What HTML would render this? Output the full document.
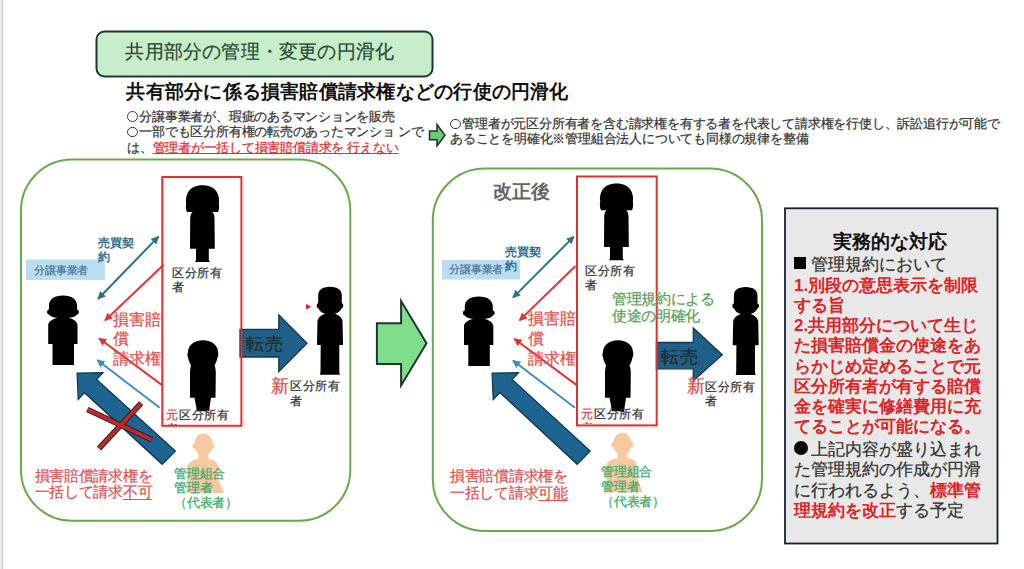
<!DOCTYPE html>
<html><head><meta charset="utf-8">
<style>
html,body{margin:0;padding:0;background:#fff;}
body{width:1024px;height:569px;position:relative;overflow:hidden;font-family:"Liberation Sans",sans-serif;}
.t{position:absolute;white-space:nowrap;font-family:"Liberation Sans",sans-serif;}
.s{-webkit-text-stroke:0.25px currentColor;}
.s b{-webkit-text-stroke:0;}
svg{position:absolute;left:0;top:0;}
</style></head><body>
<svg width="1024" height="569" viewBox="0 0 1024 569">
<defs>
<path id="male" d="M0 0C8 0 11.8 3.5 11.8 8.5L11.8 16.5C13.8 16.5 13.8 21.5 11.6 21.5C10.5 24.5 8 26.3 5 26.8C8 28.5 11.5 30 12.5 34L13 57.5C13 58.3 12 58.3 9.3 58.3L9.3 85L9.8 88L-10 88L-9.5 85L-9.3 58.3C-12 58.3 -13 58.3 -13 57.5L-12.5 34C-11.5 30 -8 28.5 -5 26.8C-8 26.3 -10.5 24.5 -11.6 21.5C-13.8 21.5 -13.8 16.5 -11.8 16.5L-11.8 8.5C-11.8 3.5 -8 0 0 0Z"/>
<path id="dev" d="M0 0C9 0 14 4 14 10L14 14C16.5 14 16.5 19 14 19C13 21 10 22 5.5 22.3C10 23.5 13.5 25.5 14.5 29L14.5 48.6L11 48.6L11 69.5L-10.5 69.5L-10.5 48.6L-14.8 48.6L-14.8 29C-13.8 25.5 -10 23.5 -5.5 22.3C-10 22 -13 21 -14 19C-16.5 19 -16.5 14 -14 14L-14 10C-14 4 -9 0 0 0Z"/>
<g id="female"><path d="M-15.5 26.8C-16.8 24 -16.8 21 -16.3 18C-17 15 -16.5 11 -14.5 7C-12 2.5 -6.5 0 0 0C6.5 0 12 2.5 14.5 7C16.5 11 17 15 16.3 18C16.8 21 16.8 24 15.5 26.8Z"/><path d="M-7.5 25L7.5 25C10.5 26.5 12 29 12 33L12.3 63.6L6.3 63.6L6.3 75L7.5 76.8L-7.5 76.8L-6.5 75L-6.5 63.6L-12.5 63.6L-12.3 33C-12.3 29 -10.5 26.5 -7.5 25Z"/></g>
<g id="peach" fill="#f8c9a1"><ellipse cx="0" cy="10.8" rx="9.3" ry="11"/><ellipse cx="-9.3" cy="12" rx="1.8" ry="2.8"/><ellipse cx="9.3" cy="12" rx="1.8" ry="2.8"/><rect x="-5" y="18" width="10" height="9"/><path d="M-6 25.5L6 25.5C12 26 14.8 29 14.8 35L15.5 47L20.5 59.3L-16.3 59.3L-16.3 35C-16.3 29 -12 26 -6 25.5Z"/></g>
<path id="bald" d="M0 0C9 0 15 5 15 12C15.5 13 15.5 16 14.5 17C14 21 12 24 11.5 25C12.5 27 12.8 30 12.8 33L12.5 57.6L8 57.6L6 71L-6 71L-8.5 57.6L-13 57.6L-13 33C-13 30 -12.5 27 -12 25C-12.5 24 -14.5 21 -15 17C-15.8 16 -15.8 13 -15 12C-15 5 -9 0 0 0Z"/>
<marker id="mt" viewBox="0 0 10 10" refX="9" refY="5" markerWidth="4" markerHeight="4" orient="auto-start-reverse"><path d="M0 0L10 5L0 10Z" fill="#2e6f8e"/></marker>
<marker id="mr" viewBox="0 0 10 10" refX="9" refY="5" markerWidth="4" markerHeight="4" orient="auto"><path d="M0 0L10 5L0 10Z" fill="#e03434"/></marker>
<marker id="mb" viewBox="0 0 10 10" refX="9" refY="5" markerWidth="4.5" markerHeight="4.5" orient="auto"><path d="M0 0L10 5L0 10Z" fill="#3a8cbc"/></marker>
</defs>
<!-- left page edge -->
<rect x="0" y="0" width="2" height="569" fill="#e8ebea"/>
<rect x="2" y="0" width="1.2" height="569" fill="#c9cecc"/>
<!-- top box -->
<rect x="96.5" y="31.5" width="336" height="45" rx="8" fill="#c6eecb" stroke="#1c3a2a" stroke-width="2"/>
<!-- small green arrow -->
<path d="M429.5 131L437 131L437 124.5L445 135.2L437 146L437 139.8L429.5 139.8Z" fill="#66cc74" stroke="#1a3324" stroke-width="1.5" stroke-linejoin="miter"/>
<!-- rounded boxes -->
<rect x="21" y="159.5" width="329.3" height="361.3" rx="51" fill="none" stroke="#6aa84f" stroke-width="2"/>
<rect x="432.8" y="168.5" width="329.2" height="362.5" rx="52" fill="none" stroke="#6aa84f" stroke-width="2"/>
<!-- big green arrow -->
<path d="M376.9 323.2L401.1 323.2L401.1 301L426.5 343.3L401.1 385.5L401.1 364L376.9 364Z" fill="#7fde8c" stroke="#1a3a28" stroke-width="2"/>
<!-- gray box -->
<rect x="785" y="208.3" width="212.5" height="335.2" fill="#e8e8e9" stroke="#142230" stroke-width="1.8"/>

<!-- ===== LEFT DIAGRAM ===== -->
<g id="diagL">
<path d="M240 329.4L278.8 329.4L278.8 314.9L307 343.3L278.8 371.6L278.8 357L240 357Z" fill="#1f6088" stroke="#12394f" stroke-width="1.3"/>
<rect x="162.3" y="177" width="79.1" height="248.8" fill="none" stroke="#e03030" stroke-width="2"/>
<use href="#female" x="202.5" y="185.2"/>
<use href="#bald" x="203" y="340.2"/>
<use href="#male" x="330" y="286.7"/>
<use href="#dev" x="63" y="295.4"/>
<rect x="25.8" y="259.5" width="79.1" height="20.5" fill="#bcdcf2"/>
<line x1="98" y1="299" x2="158.5" y2="236.6" stroke="#2e6f8e" stroke-width="2" marker-start="url(#mt)" marker-end="url(#mt)"/>
<line x1="163.7" y1="264.8" x2="105" y2="320.4" stroke="#e03434" stroke-width="2" marker-end="url(#mr)"/>
<line x1="162.4" y1="385.4" x2="99" y2="338.3" stroke="#e03434" stroke-width="2" marker-end="url(#mr)"/>
<line x1="159.7" y1="407.8" x2="97.2" y2="360" stroke="#3a8cbc" stroke-width="1.8" marker-end="url(#mb)"/>
<path d="M306 304L311.5 306.8L306 309.6Z" fill="#e02020"/>

<path d="M77.1 373.2L103 372.7L96.6 379.5L175.4 451.1L162.2 464.3L84.5 392.7L78.2 399.6Z" fill="#1e6490" stroke="#0f3350" stroke-width="1.2"/>
<path d="M87.4 409.5L151.7 439.7" stroke="#2a1a1a" stroke-width="5.6"/>
<path d="M141.2 403.2L99 448.5" stroke="#2a1a1a" stroke-width="5.6"/>
<path d="M87.4 409.5L151.7 439.7" stroke="#c0282e" stroke-width="3.8"/>
<path d="M141.2 403.2L99 448.5" stroke="#c0282e" stroke-width="3.8"/>
<use href="#peach" x="203.5" y="433.7"/>
</g>

<!-- ===== RIGHT DIAGRAM ===== -->
<g id="diagR">
<path d="M656.4 342.5L693.3 342.5L693.3 328L722.3 354.8L693.3 380.7L693.3 368.8L656.4 368.8Z" fill="#1f6088" stroke="#12394f" stroke-width="1.3"/>
<rect x="577" y="176.5" width="79.7" height="248.9" fill="none" stroke="#e03030" stroke-width="2"/>
<use href="#female" x="616.5" y="183.5"/>
<use href="#bald" x="618" y="340.2"/>
<use href="#male" x="745.7" y="287"/>
<use href="#dev" x="478.8" y="296.5"/>
<rect x="442" y="260" width="78" height="19.5" fill="#bcdcf2"/>
<line x1="513" y1="297.6" x2="573.8" y2="236.6" stroke="#2e6f8e" stroke-width="2" marker-start="url(#mt)" marker-end="url(#mt)"/>
<line x1="575.5" y1="266" x2="519.5" y2="320.4" stroke="#e03434" stroke-width="2" marker-end="url(#mr)"/>
<line x1="577" y1="385.4" x2="514.2" y2="338.8" stroke="#e03434" stroke-width="2" marker-end="url(#mr)"/>
<line x1="575" y1="407.8" x2="512.9" y2="360.5" stroke="#3a8cbc" stroke-width="1.8" marker-end="url(#mb)"/>

<path d="M492.1 373.2L518.5 372.7L512.2 379.5L590.2 451L577.2 464.3L500 392.7L493.2 399.6Z" fill="#1e6490" stroke="#0f3350" stroke-width="1.2"/>
<use href="#peach" x="622.3" y="433"/>
</g>
</svg>

<!-- header texts -->

<div class="t s" style="left:125.43px;top:42.11px;font-size:19px;line-height:19px;letter-spacing:0.19px;color:#2f4a36;">共用部分の管理・変更の円滑化</div>
<div class="t" style="left:126.43px;top:82.16px;font-size:19px;line-height:19px;letter-spacing:0.23px;color:#111;font-weight:bold">共有部分に係る損害賠償請求権などの行使の円滑化</div>
<div class="t s" style="left:127.01px;top:108.69px;font-size:13px;line-height:15.5px;letter-spacing:-0.23px;color:#363636;"><span style="display:inline-block;box-sizing:border-box;width:10.8px;height:10.8px;border:1.1px solid #3a3a3a;border-radius:50%;margin-right:1.6px;vertical-align:-1.2px"></span>分譲事業者が、瑕疵のあるマンションを販売<br><span style="display:inline-block;box-sizing:border-box;width:10.8px;height:10.8px;border:1.1px solid #3a3a3a;border-radius:50%;margin-right:1.6px;vertical-align:-1.2px"></span>一部でも区分所有権の転売のあったマンショ ンで<br>は、<span style="color:#d83434;text-decoration:underline;text-underline-offset:0.5px">管理者が一括して損害賠償請求を 行えない</span></div>
<div class="t s" style="left:449.91px;top:116.19px;font-size:13px;line-height:15.2px;letter-spacing:-0.2px;color:#363636;"><span style="display:inline-block;box-sizing:border-box;width:10.8px;height:10.8px;border:1.1px solid #3a3a3a;border-radius:50%;margin-right:1.6px;vertical-align:-1.2px"></span>管理者が元区分所有者を含む請求権を有する者を代表して請求権を行使し、訴訟追行が可能で<br>あることを明確化※管理組合法人についても同様の規律を整備</div>
<div class="t s" style="left:34.47px;top:264.55px;font-size:11px;line-height:11px;letter-spacing:-0.3px;color:#4a7ba0;">分譲事業者</div>
<div class="t" style="left:97.84px;top:237.29px;font-size:12px;line-height:13.7px;letter-spacing:0px;color:#2f6f8f;font-weight:bold">売買契<br>約</div>
<div class="t s" style="left:172.14px;top:266.34px;font-size:12px;line-height:14px;letter-spacing:0.6px;color:#333;">区分所有<br>者</div>
<div class="t s" style="left:166.34px;top:407.69px;font-size:12px;line-height:14px;letter-spacing:0.6px;color:#333;height:17px;overflow:hidden"><span style="color:#d84040">元</span>区分所有<br>者</div>
<div class="t s" style="left:113.12px;top:309.67px;font-size:16px;line-height:19.7px;letter-spacing:0px;color:#e25252;">損害賠<br>償<br>請求権</div>
<div class="t s" style="left:246.16px;top:335.21px;font-size:18px;line-height:18px;letter-spacing:0.4px;color:#262a2e;">転売</div>
<div class="t s" style="left:271.46px;top:376.91px;font-size:18px;line-height:18px;letter-spacing:-0.5px;color:#d85050;">新</div>
<div class="t s" style="left:290.14px;top:379.34px;font-size:12px;line-height:14.8px;letter-spacing:0.6px;color:#333;">区分所有<br>者</div>
<div class="t s" style="left:34.55px;top:467.65px;font-size:15px;line-height:16.85px;letter-spacing:-0.28px;color:#d95555;">損害賠償請求権を<br>一括して請求<span style="text-decoration:underline;text-underline-offset:2px">不可</span></div>
<div class="t s" style="left:174.31px;top:466.78px;font-size:13px;line-height:14.7px;letter-spacing:-0.3px;color:#3caa6a;">管理組合<br>管理者<br>（代表者）</div>
<div class="t" style="left:493.03px;top:182.41px;font-size:19px;line-height:19px;letter-spacing:0px;color:#666;font-weight:bold">改正後</div>
<div class="t s" style="left:449.47px;top:264.14px;font-size:11px;line-height:11px;letter-spacing:-0.3px;color:#4a7ba0;">分譲事業者</div>
<div class="t" style="left:505.24px;top:244.74px;font-size:12px;line-height:14px;letter-spacing:0px;color:#2f6f8f;font-weight:bold">売買契<br>約</div>
<div class="t s" style="left:585.14px;top:263.94px;font-size:12px;line-height:14.2px;letter-spacing:0.6px;color:#333;">区分所有<br>者</div>
<div class="t s" style="left:581.34px;top:407.24px;font-size:12px;line-height:14px;letter-spacing:0.6px;color:#333;height:17px;overflow:hidden"><span style="color:#d84040">元</span>区分所有<br>者</div>
<div class="t s" style="left:528.22px;top:308.87px;font-size:16px;line-height:19.9px;letter-spacing:0px;color:#e25252;">損害賠<br>償<br>請求権</div>
<div class="t s" style="left:612.15px;top:289.73px;font-size:15px;line-height:17.1px;letter-spacing:-0.4px;color:#5a9e5a;">管理規約による<br>使途の明確化</div>
<div class="t s" style="left:661.16px;top:347.61px;font-size:18px;line-height:18px;letter-spacing:0.4px;color:#262a2e;">転売</div>
<div class="t s" style="left:687.46px;top:377.41px;font-size:18px;line-height:18px;letter-spacing:-0.5px;color:#d85050;">新</div>
<div class="t s" style="left:705.14px;top:381.09px;font-size:12px;line-height:13.7px;letter-spacing:0.6px;color:#333;">区分所有<br>者</div>
<div class="t s" style="left:450.05px;top:467.12px;font-size:15px;line-height:17px;letter-spacing:-0.28px;color:#d95555;">損害賠償請求権を<br>一括して請求<span style="text-decoration:underline;text-underline-offset:2px">可能</span></div>
<div class="t s" style="left:601.31px;top:464.24px;font-size:13px;line-height:15px;letter-spacing:-0.3px;color:#3caa6a;">管理組合<br>管理者<br>（代表者）</div>
<div class="t" style="left:832.93px;top:231.71px;font-size:19px;line-height:19px;letter-spacing:0px;color:#111;font-weight:bold">実務的な対応</div>
<div class="t s" style="left:794px;top:255.4px;font-size:17px;line-height:20.25px;color:#333"><span style="display:inline-block;width:12.3px;height:11.7px;background:#000;margin-right:4.7px;vertical-align:1.5px"></span>管理規約において<br><b style="color:#dc2426">1.別段の意思表示を制限<br>する旨<br>2.共用部分について生じ<br>た損害賠償金の使途をあ<br>らかじめ定めることで元<br>区分所有者が有する賠償<br>金を確実に修繕費用に充<br>てることが可能になる。</b></div>
<div class="t s" style="left:794px;top:440.2px;font-size:17px;line-height:20.15px;color:#333"><span style="display:inline-block;width:14px;height:14px;border-radius:50%;background:#000;margin-right:2.5px;vertical-align:-0.3px"></span>上記内容が盛り込まれ<br>た管理規約の作成が円滑<br>に行われるよう、<b style="color:#dc2426">標準管<br>理規約を改正</b>する予定</div>
</body></html>
